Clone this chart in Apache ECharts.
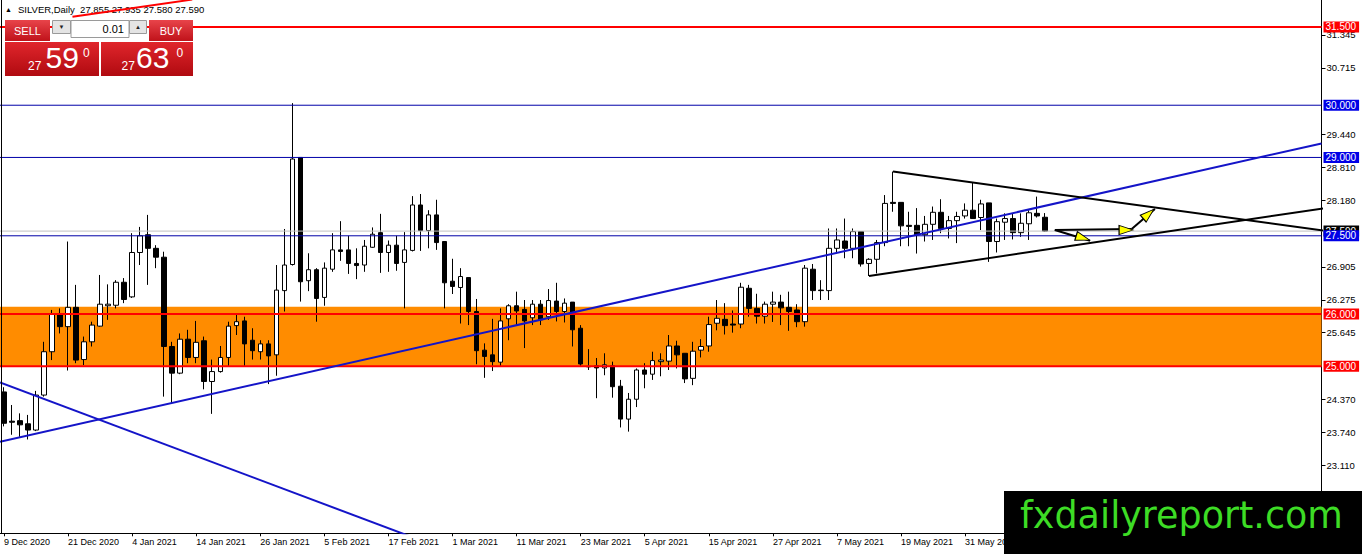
<!DOCTYPE html>
<html><head><meta charset="utf-8">
<script src="https://cdn.jsdelivr.net/npm/echarts@6/dist/echarts.min.js"></script>
<style>html,body{margin:0;padding:0;background:#fff}#c{width:1362px;height:554px}</style>
</head><body><div id="c"></div>
<script>
const dates = ['9 Dec 2020','10 Dec 2020','11 Dec 2020','14 Dec 2020','15 Dec 2020','16 Dec 2020','17 Dec 2020','18 Dec 2020',
'21 Dec 2020','22 Dec 2020','23 Dec 2020','24 Dec 2020','28 Dec 2020','29 Dec 2020','30 Dec 2020','31 Dec 2020',
'4 Jan 2021','5 Jan 2021','6 Jan 2021','7 Jan 2021','8 Jan 2021','11 Jan 2021','12 Jan 2021','13 Jan 2021',
'14 Jan 2021','15 Jan 2021','18 Jan 2021','19 Jan 2021','20 Jan 2021','21 Jan 2021','22 Jan 2021','25 Jan 2021',
'26 Jan 2021','27 Jan 2021','28 Jan 2021','29 Jan 2021','1 Feb 2021','2 Feb 2021','3 Feb 2021','4 Feb 2021',
'5 Feb 2021','8 Feb 2021','9 Feb 2021','10 Feb 2021','11 Feb 2021','12 Feb 2021','15 Feb 2021','16 Feb 2021',
'17 Feb 2021','18 Feb 2021','19 Feb 2021','22 Feb 2021','23 Feb 2021','24 Feb 2021','25 Feb 2021','26 Feb 2021',
'1 Mar 2021','2 Mar 2021','3 Mar 2021','4 Mar 2021','5 Mar 2021','8 Mar 2021','9 Mar 2021','10 Mar 2021',
'11 Mar 2021','12 Mar 2021','15 Mar 2021','16 Mar 2021','17 Mar 2021','18 Mar 2021','19 Mar 2021','22 Mar 2021',
'23 Mar 2021','24 Mar 2021','25 Mar 2021','26 Mar 2021','29 Mar 2021','30 Mar 2021','31 Mar 2021','1 Apr 2021',
'5 Apr 2021','6 Apr 2021','7 Apr 2021','8 Apr 2021','9 Apr 2021','12 Apr 2021','13 Apr 2021','14 Apr 2021',
'15 Apr 2021','16 Apr 2021','19 Apr 2021','20 Apr 2021','21 Apr 2021','22 Apr 2021','23 Apr 2021','26 Apr 2021',
'27 Apr 2021','28 Apr 2021','29 Apr 2021','30 Apr 2021','3 May 2021','4 May 2021','5 May 2021','6 May 2021',
'7 May 2021','10 May 2021','11 May 2021','12 May 2021','13 May 2021','14 May 2021','17 May 2021','18 May 2021',
'19 May 2021','20 May 2021','21 May 2021','24 May 2021','25 May 2021','26 May 2021','27 May 2021','28 May 2021',
'31 May 2021','1 Jun 2021','2 Jun 2021','3 Jun 2021','4 Jun 2021','7 Jun 2021','8 Jun 2021','9 Jun 2021',
'10 Jun 2021','11 Jun 2021','14 Jun 2021'];
const slotCount = 165;

const opens = [
24.51,23.95,23.96,23.90,23.78,24.45,25.28,26.00,25.76,26.13,
25.13,25.47,25.77,26.16,26.17,26.61,26.33,27.18,27.52,27.26,
27.09,25.38,24.87,25.52,25.17,25.49,24.71,24.90,25.17,25.78,
25.87,25.50,25.28,25.43,25.22,26.45,26.95,29.00,26.64,26.85,
26.32,26.86,27.23,27.23,26.97,26.94,27.28,27.56,27.18,27.32,
26.99,27.22,28.09,27.60,27.90,27.39,26.63,26.51,26.70,26.05,
25.31,25.22,25.08,25.91,26.16,26.09,25.93,26.19,25.95,26.25,
26.05,26.23,25.73,25.00,25.01,24.97,25.01,24.62,23.99,24.37,
24.93,24.85,25.09,25.10,25.39,25.25,24.77,25.31,25.39,25.825,
25.90,25.81,25.81,26.495,26.11,25.96,26.19,26.23,26.13,26.08,
25.855,26.86,26.46,26.45,27.26,27.40,27.26,27.58,26.97,27.05,
27.37,28.14,28.14,27.70,27.70,27.52,27.72,27.95,27.64,27.79,
27.88,27.99,27.85,28.13,27.39,27.76,27.83,27.56,27.73,27.93,
27.855];
const closes = [
23.91,23.93,23.88,23.78,24.45,25.28,26.00,25.76,26.13,25.12,
25.47,25.79,26.19,26.19,26.61,26.28,27.18,27.50,27.26,27.09,
25.38,24.87,25.52,25.17,25.46,24.71,24.90,25.17,25.77,25.855,
25.43,25.30,25.43,25.20,26.46,26.94,28.97,26.62,26.85,26.30,
26.88,27.23,27.20,26.97,26.93,27.30,27.53,27.18,27.32,26.97,
27.23,28.09,27.60,27.90,27.37,26.60,26.53,26.72,26.05,25.30,
25.19,25.09,25.87,26.16,26.06,25.87,26.19,25.89,26.26,26.05,
26.21,25.70,25.045,24.99,24.97,25.03,24.61,23.99,24.37,24.93,
24.85,25.11,25.12,25.39,25.22,24.76,25.29,25.38,25.80,25.92,
25.78,25.79,26.515,26.11,25.96,26.19,26.23,26.12,26.05,25.855,
26.88,26.45,26.45,27.26,27.42,27.26,27.58,26.96,27.05,27.37,
28.12,28.12,27.69,27.68,27.52,27.72,27.95,27.64,27.79,27.87,
27.99,27.83,28.11,27.39,27.77,27.83,27.56,27.74,27.94,27.88,
27.59];
const lows = [
23.85,23.69,23.65,23.60,23.76,24.42,25.12,25.63,24.92,25.06,
25.025,25.38,25.76,25.89,26.11,26.21,26.31,26.94,26.56,26.88,
24.42,24.29,24.85,25.06,25.06,24.56,24.09,24.88,24.99,25.60,
24.99,25.13,25.13,24.66,24.82,26.05,26.93,26.24,26.44,25.855,
26.16,26.81,27.02,26.77,26.67,26.81,27.27,26.79,26.81,26.83,
26.11,27.20,27.21,27.26,27.23,26.11,26.385,25.82,25.79,25.04,
24.78,24.91,24.99,25.50,25.79,25.35,25.79,25.79,25.89,25.86,
25.84,25.38,24.99,24.93,24.39,24.83,24.40,23.83,23.75,24.22,
24.58,24.74,24.81,24.93,24.96,24.68,24.64,25.17,25.28,25.69,
25.61,25.645,25.73,25.95,25.82,25.82,25.85,25.79,25.68,25.75,
25.76,26.27,26.27,26.27,27.16,27.07,27.07,26.91,26.73,26.78,
27.30,27.96,27.30,27.30,27.16,27.39,27.42,27.55,27.45,27.36,
27.83,27.83,27.61,27.00,27.18,27.42,27.43,27.48,27.42,27.85,
27.58];
const highs = [
24.60,24.26,24.10,24.07,24.53,25.47,26.08,26.11,27.39,26.56,
25.57,25.855,26.75,26.57,26.65,26.69,27.55,27.67,27.90,27.32,
27.195,25.47,25.63,25.70,25.87,25.57,25.13,25.39,25.855,26.015,
25.95,25.73,25.50,25.50,26.94,27.63,30.04,29.00,27.165,26.88,
26.99,27.55,27.78,27.50,27.26,27.42,27.66,27.92,27.41,27.50,
27.57,28.26,28.30,27.99,28.19,27.39,27.06,26.88,26.70,26.29,
25.44,25.91,26.11,26.19,26.43,26.27,26.27,26.27,26.48,26.60,
26.30,26.23,25.79,25.33,25.16,25.25,25.09,24.74,24.49,24.96,
25.06,25.28,25.25,25.60,25.49,25.25,25.47,25.52,25.95,26.27,
26.21,26.07,26.60,26.56,26.39,26.24,26.43,26.37,26.43,26.19,
26.94,26.96,26.65,27.64,27.64,27.83,27.64,27.58,27.07,27.42,
28.28,28.73,28.14,27.96,28.03,27.88,28.06,28.20,27.88,27.96,
28.12,28.52,28.19,28.13,27.83,27.93,27.93,27.93,27.99,28.25,
27.935];

const yTickValues = [31.345, 30.715, 29.44, 28.81, 28.18, 26.905, 26.275, 25.645, 24.37, 23.74, 23.11];
const redLevels = [31.5, 26.0, 25.0];
const blueLevels = [30.0, 29.0, 27.5];
const bidPrice = 27.59;
const zoneLow = 24.997, zoneHigh = 26.142;
const blueUpTrend = [[-0.5, 23.554], [164.5, 29.269]];
const blueDownTrend = [[-0.5, 24.692], [52, 21.67]];
const blackUpperTrend = [[111, 28.73], [169.8, 27.494]];
const blackLowerTrend = [[108, 26.73], [169.8, 28.141]];
const redTopTrend = [[8.55, 31.695], [23.5, 32.023]];
const arrowLines = [[[131.2, 27.611], [135.6, 27.406]], [[131.2, 27.611], [140.8, 27.63]], [[140.8, 27.63], [143.7, 28.013]]];
const arrowHeads = [[134.7, 27.458], [140.1, 27.611], [142.9, 27.917]];
const arrowAngles = [-107, -90, -49];

const FONT = '"Liberation Sans", Arial, sans-serif';
const categories = dates.concat(new Array(slotCount - dates.length).fill(''));
const candleData = dates.map((d, i) => [opens[i], closes[i], lows[i], highs[i]]);
const xMin = -0.5, xMax = slotCount - 0.5;

function levelSeries(v, color, width, labelBg) {
  return {
    type: 'line', xAxisIndex: 1, yAxisIndex: 0, z: 4, silent: true,
    data: [[xMin, v], [xMax, v]], showSymbol: false, symbol: 'none',
    lineStyle: { color: color, width: width },
    endLabel: { show: true, formatter: () => v.toFixed(3), color: '#fff', backgroundColor: labelBg,
      fontSize: 10, fontFamily: FONT, padding: [1, 3, 0, 2], distance: 2 }
  };
}
function trendSeries(pts, color, width, clip, z) {
  return { type: 'line', xAxisIndex: 1, yAxisIndex: 0, z: z || 5, silent: true, clip: clip,
    data: pts, showSymbol: false, symbol: 'none', lineStyle: { color: color, width: width } };
}

const series = [];
series.push({ type: 'line', xAxisIndex: 1, yAxisIndex: 0, z: 1, silent: true,
  data: [[xMin, zoneHigh], [xMax, zoneHigh]], showSymbol: false, symbol: 'none',
  lineStyle: { width: 0, opacity: 0 }, areaStyle: { color: '#ff8c00', opacity: 1, origin: zoneLow } });
series.push({ type: 'candlestick', xAxisIndex: 0, yAxisIndex: 0, z: 3, barWidth: 5, silent: true,
  data: candleData,
  itemStyle: { color: '#ffffff', color0: '#000000', borderColor: '#000000', borderColor0: '#000000',
    borderColorDoji: '#000000', borderWidth: 1 } });
series.push(levelSeries(bidPrice, '#c0c0c0', 1, '#000000'));
blueLevels.forEach(v => series.push(levelSeries(v, '#0000a8', 1, '#0000e6')));
redLevels.forEach(v => series.push(levelSeries(v, '#ff0000', 2, '#ff0000')));
series.push(trendSeries(blueUpTrend, '#1414c8', 2, true));
series.push(trendSeries(blueDownTrend, '#1414c8', 2, true));
series.push(trendSeries(blackUpperTrend, '#000000', 2, false));
series.push(trendSeries(blackLowerTrend, '#000000', 2, false));
series.push(trendSeries(redTopTrend, '#ff0000', 2, true));
arrowLines.forEach(pts => series.push(trendSeries(pts, '#000000', 2, false, 6)));
series.push({ type: 'scatter', xAxisIndex: 1, yAxisIndex: 0, z: 7, silent: true, clip: false,
  symbol: 'triangle', symbolSize: [9, 14],
  data: arrowHeads.map((p, k) => ({ value: p, symbolRotate: arrowAngles[k] })),
  itemStyle: { color: '#ffff00', borderColor: '#000000', borderWidth: 1, opacity: 1 } });

function txt(text, x, y, size, color, align, extra) {
  return Object.assign({ type: 'text', z: 101, silent: true,
    style: { text: text, x: x, y: y, font: size + 'px ' + FONT, fill: color,
      align: align || 'left', textAlign: align || 'left', verticalAlign: 'middle', textVerticalAlign: 'middle' } }, extra || {});
}
function grad(a, b) { return new echarts.graphic.LinearGradient(0, 0, 0, 1, [{ offset: 0, color: a }, { offset: 1, color: b }]); }
function rect(x, y, w, h, fill, stroke) {
  return { type: 'rect', z: 100, silent: true, shape: { x: x, y: y, width: w, height: h },
    style: { fill: fill, stroke: stroke || null, lineWidth: stroke ? 1 : 0 } };
}

const titleText = 'SILVER,Daily  ' + opens[130].toFixed(3) + ' ' + highs[130].toFixed(3) + ' ' +
  lows[130].toFixed(3) + ' ' + closes[130].toFixed(3);

const graphics = [
  { type: 'line', z: 50, silent: true, shape: { x1: 1.5, y1: 0, x2: 1.5, y2: 533 }, style: { stroke: '#000', lineWidth: 1 } },
  Object.assign(txt('▲', 5, 9, 7, '#000'), { z: 1 }),
  Object.assign(txt(titleText, 18, 9.5, 9.5, '#000'), { z: 1 }),
  rect(5, 20, 45, 21, grad('#e8444a', '#c0121a')),
  txt('SELL', 27.5, 30.5, 11, '#fff', 'center'),
  rect(52.5, 20.5, 18, 13, '#e4e4e4', '#9a9a9a'),
  txt('▼', 61.5, 27, 6, '#222', 'center'),
  rect(71, 20.5, 58, 17, '#ffffff', '#9a9a9a'),
  txt('0.01', 124, 29, 11, '#000', 'right'),
  rect(129.5, 20.5, 17, 13, '#e4e4e4', '#9a9a9a'),
  txt('▲', 138, 27, 6, '#222', 'center'),
  rect(149, 20, 44, 21, grad('#e8444a', '#c0121a')),
  txt('BUY', 171, 30.5, 11, '#fff', 'center'),
  rect(5, 42, 94, 34, grad('#e0262c', '#b00a10')),
  rect(101, 42, 92, 34, grad('#e0262c', '#b00a10')),
  txt('27', 28, 66, 12, '#fff'),
  txt('59', 45.5, 57.5, 30, '#fff'),
  txt('0', 83, 52.5, 12, '#fff'),
  txt('27', 121.5, 66, 12, '#fff'),
  txt('63', 136, 57.5, 30, '#fff'),
  txt('0', 176.5, 52.5, 12, '#fff'),
  rect(1004, 491, 358, 63, '#000000'),
  { type: 'text', z: 101, silent: true,
    style: { text: 'fxdailyreport.com', x: 1020, y: 515, font: '36.5px "DejaVu Sans", sans-serif', fill: '#3ddc25',
      align: 'left', textAlign: 'left', verticalAlign: 'middle', textVerticalAlign: 'middle' } }
];

const chart = echarts.init(document.getElementById('c'), null, { renderer: 'svg' });
chart.setOption({
  animation: false,
  backgroundColor: '#ffffff',
  grid: { left: -0.7, right: 40.5, top: 0, bottom: 20.7, containLabel: false },
  xAxis: [
    { type: 'category', data: categories, boundaryGap: true,
      axisLine: { show: true, lineStyle: { color: '#000', width: 1 } },
      axisTick: { show: true, alignWithLabel: true, interval: 7, length: 3, lineStyle: { color: '#000' } },
      axisLabel: { show: true, interval: 7, align: 'left', fontSize: 9, fontFamily: FONT, color: '#000', margin: 4 },
      splitLine: { show: false } },
    { type: 'value', min: xMin, max: xMax, show: false, splitLine: { show: false } }
  ],
  yAxis: [{
    type: 'value', position: 'right', min: 21.803, max: 32.015, scale: true,
    axisLine: { show: true, onZero: false, lineStyle: { color: '#000', width: 1 } },
    axisTick: { show: true, inside: false, length: 4, customValues: yTickValues, lineStyle: { color: '#000' } },
    axisLabel: { show: true, customValues: yTickValues, formatter: v => Number(v).toFixed(3),
      fontSize: 9.5, fontFamily: FONT, color: '#000', margin: 5 },
    splitLine: { show: false }
  }],
  series: series,
  graphic: graphics
});
</script></body></html>
